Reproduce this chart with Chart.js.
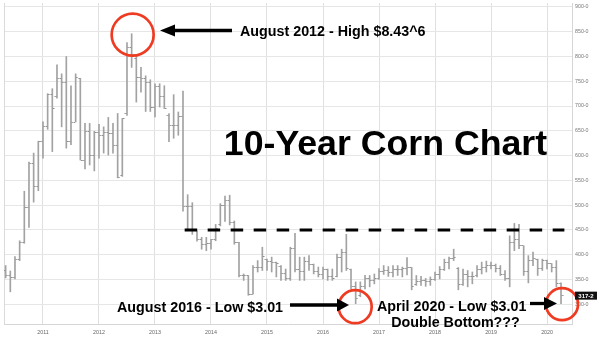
<!DOCTYPE html>
<html><head><meta charset="utf-8">
<script src="https://cdn.jsdelivr.net/npm/chart.js@4.4.1/dist/chart.umd.min.js"></script>
<style>html,body{margin:0;padding:0;background:#fff}#wrap{width:600px;height:339px;position:relative}</style>
</head><body><div id="wrap"><canvas id="c" width="600" height="339"></canvas></div>
<script>
const months = [
 '2010-05','2010-06','2010-07','2010-08','2010-09','2010-10','2010-11','2010-12',
 '2011-01','2011-02','2011-03','2011-04','2011-05','2011-06','2011-07','2011-08','2011-09','2011-10','2011-11','2011-12',
 '2012-01','2012-02','2012-03','2012-04','2012-05','2012-06','2012-07','2012-08','2012-09','2012-10','2012-11','2012-12',
 '2013-01','2013-02','2013-03','2013-04','2013-05','2013-06','2013-07','2013-08','2013-09','2013-10','2013-11','2013-12',
 '2014-01','2014-02','2014-03','2014-04','2014-05','2014-06','2014-07','2014-08','2014-09','2014-10','2014-11','2014-12',
 '2015-01','2015-02','2015-03','2015-04','2015-05','2015-06','2015-07','2015-08','2015-09','2015-10','2015-11','2015-12',
 '2016-01','2016-02','2016-03','2016-04','2016-05','2016-06','2016-07','2016-08','2016-09','2016-10','2016-11','2016-12',
 '2017-01','2017-02','2017-03','2017-04','2017-05','2017-06','2017-07','2017-08','2017-09','2017-10','2017-11','2017-12',
 '2018-01','2018-02','2018-03','2018-04','2018-05','2018-06','2018-07','2018-08','2018-09','2018-10','2018-11','2018-12',
 '2019-01','2019-02','2019-03','2019-04','2019-05','2019-06','2019-07','2019-08','2019-09','2019-10','2019-11','2019-12',
 '2020-01','2020-02','2020-03','2020-04'
];
const opens = [
 367,358,353,391,425,496,583,538,
 628,658,723,720,755,748,629,667,755,591,648,601,
 646,641,646,644,620,560,685,818,795,758,756,748,
 698,740,720,680,660,661,678,498,498,448,430,420,
 422,430,460,500,510,465,425,357,358,320,375,375,
 390,386,385,376,362,352,413,370,365,387,380,365,
 360,370,355,356,395,405,370,335,318,335,352,348,
 352,365,368,364,370,370,372,374,340,345,348,345,
 350,360,370,385,392,372,340,360,355,357,370,375,
 378,378,372,360,352,425,430,418,366,388,391,372,
 388,382,375,341
];
const highs = [
 378,367,396,428,528,587,605,629,
 668,725,735,783,765,800,741,765,756,665,665,649,
 663,658,677,665,685,675,828,846,800,778,761,753,
 745,745,741,685,723,688,730,521,505,448,435,435,
 431,461,503,518,520,468,425,361,358,378,388,415,
 391,395,385,378,371,415,443,395,395,398,381,375,
 375,371,371,401,411,441,371,345,345,358,358,361,
 372,378,376,378,378,375,394,374,358,356,352,355,
 365,376,391,395,411,374,371,368,365,378,385,387,
 385,381,378,368,438,463,461,418,398,405,391,391,
 389,382,388,343
];
const lows = [
 353,325,351,388,423,455,506,529,
 595,653,608,716,658,615,622,668,591,573,581,569,
 595,605,601,605,555,558,681,778,708,728,689,689,
 678,698,695,628,635,641,488,449,441,427,411,408,
 411,428,458,467,460,421,355,348,318,320,365,368,
 368,365,355,348,348,348,365,348,348,368,361,355,
 351,348,348,355,365,368,331,301,315,331,335,341,
 350,360,356,355,358,355,359,329,338,338,336,338,
 348,351,368,371,388,329,338,335,341,355,361,365,
 371,365,358,348,335,408,412,358,343,378,358,368,
 371,365,335,301
];
const closes = [
 358,353,391,425,496,583,538,628,
 658,723,695,755,748,629,667,758,591,648,601,646,
 641,646,644,620,556,675,818,805,758,756,748,698,
 740,720,695,660,661,678,498,498,448,430,420,422,
 430,453,500,510,465,425,357,358,320,375,375,397,
 386,385,382,362,352,413,370,365,387,380,365,360,
 370,355,352,395,405,372,335,312,335,352,348,352,
 365,368,364,370,370,372,375,335,345,348,345,350,
 360,370,385,392,395,340,360,355,355,370,375,378,
 378,372,360,352,425,430,418,366,388,392,372,388,
 383,375,341,317.25
];
const xTicks = [2011,2012,2013,2014,2015,2016,2017,2018,2019,2020];
const yTicks = [300,350,400,450,500,550,600,650,700,750,800,850,900];
const lastPriceText = '317-2';
const resistanceLevel = 450;

const tOf = m => { const [y, mo] = m.split('-').map(Number); return y + (mo - 1) / 12; };
const BAR = '#a2a2a2';
const TICK = '#8a8a8a';
function tickImg(left){
  const c = document.createElement('canvas'); c.width = 5; c.height = 1;
  const g = c.getContext('2d'); g.fillStyle = TICK; g.fillRect(left ? 0.5 : 3, 0, 1.5, 1); return c;
}
const FONT = '"Liberation Sans", Arial, Helvetica, sans-serif';

function arrow(ctx, x0, x1, y, headLen, headHalf, lw){
  const d = Math.sign(x1 - x0);
  ctx.lineWidth = lw; ctx.strokeStyle = '#000'; ctx.fillStyle = '#000';
  ctx.beginPath(); ctx.moveTo(x0, y); ctx.lineTo(x1 - d*headLen + d*1, y); ctx.stroke();
  ctx.beginPath(); ctx.moveTo(x1, y); ctx.lineTo(x1 - d*headLen, y - headHalf); ctx.lineTo(x1 - d*headLen, y + headHalf); ctx.closePath(); ctx.fill();
}
function circle(ctx, x, y, r){
  ctx.lineWidth = 2.7; ctx.strokeStyle = '#ee3b22';
  ctx.beginPath(); ctx.arc(x, y, r, 0, Math.PI*2); ctx.stroke();
}

const annot = {
  id: 'annot',
  beforeDatasetsDraw(chart){
    const {ctx, chartArea: a} = chart;
    ctx.save(); ctx.strokeStyle = '#dadada'; ctx.lineWidth = 1;
    ctx.beginPath(); ctx.moveTo(a.left + 0.5, a.top); ctx.lineTo(a.left + 0.5, a.bottom); ctx.stroke();
    ctx.restore();
  },
  afterDraw(chart){
    const {ctx} = chart; const xs = chart.scales.x, ys = chart.scales.y;
    ctx.save();
    const yr = ys.getPixelForValue(resistanceLevel);
    ctx.setLineDash([12.5, 10.5]); ctx.lineWidth = 3; ctx.strokeStyle = '#000';
    ctx.beginPath(); ctx.moveTo(xs.getPixelForValue(2013.53), yr); ctx.lineTo(xs.getPixelForValue(2020.31), yr); ctx.stroke();
    ctx.setLineDash([]);
    const iHigh = months.indexOf('2012-08'), iLow1 = months.indexOf('2016-08'), iLow2 = months.indexOf('2020-04');
    circle(ctx, xs.getPixelForValue(tOf(months[iHigh])) + 1, ys.getPixelForValue(highs[iHigh]) + 1, 21);
    circle(ctx, xs.getPixelForValue(tOf(months[iLow1])) - 0.5, ys.getPixelForValue(lows[iLow1]) + 3, 16.5);
    circle(ctx, xs.getPixelForValue(tOf(months[iLow2])) + 1, ys.getPixelForValue(lows[iLow2]) + 0.5, 16);
    arrow(ctx, 232, 160, 30.5, 15, 6, 3.3);
    arrow(ctx, 290, 349, 305, 12, 6.5, 3.3);
    arrow(ctx, 530, 557, 303.5, 13, 6.5, 3.3);
    ctx.fillStyle = '#000'; ctx.textBaseline = 'alphabetic';
    ctx.font = 'bold 14.3px ' + FONT; ctx.textAlign = 'left';
    ctx.fillText('August 2012 - High $8.43^6', 240, 36);
    ctx.fillText('August 2016 - Low $3.01', 117, 311.5);
    ctx.fillText('April 2020 - Low $3.01', 377, 311.3);
    ctx.textAlign = 'center';
    ctx.fillText('Double Bottom???', 455.5, 327);
    ctx.font = 'bold 35.7px ' + FONT;
    ctx.fillText('10-Year Corn Chart', 385.5, 155);
    const yl = ys.getPixelForValue(closes[closes.length - 1]);
    ctx.fillStyle = '#111';
    ctx.fillRect(575, yl - 4, 22, 8);
    ctx.fillStyle = '#fff'; ctx.font = 'bold 6px ' + FONT; ctx.textBaseline = 'middle';
    ctx.fillText(lastPriceText, 586, yl + 0.3);
    ctx.restore();
  }
};

new Chart(document.getElementById('c'), {
  type: 'bar',
  data: {
    datasets: [
      { type: 'bar', data: months.map((m, i) => ({x: tOf(m), y: [lows[i], highs[i]]})),
        backgroundColor: BAR, borderWidth: 0, barThickness: 1, grouped: false, order: 2 },
      { type: 'line', showLine: false, data: months.map((m, i) => ({x: tOf(m), y: opens[i]})),
        pointStyle: tickImg(true), pointRadius: 2, pointHoverRadius: 2, order: 1 },
      { type: 'line', showLine: false, data: months.map((m, i) => ({x: tOf(m), y: closes[i]})),
        pointStyle: tickImg(false), pointRadius: 2, pointHoverRadius: 2, order: 1 }
    ]
  },
  options: {
    responsive: false, animation: false,
    layout: { padding: { left: 4, top: 0, right: 0, bottom: 0 } },
    plugins: { legend: { display: false }, tooltip: { enabled: false } },
    scales: {
      x: {
        type: 'linear', min: 2010.304, max: 2020.446, offset: false,
        afterBuildTicks: s => { s.ticks = xTicks.map(v => ({value: v})); },
        afterFit: s => { s.height = 15; s.paddingLeft = 0; s.paddingRight = 0; },
        grid: { color: '#e0e0e0', drawTicks: false, offset: false },
        border: { display: true, color: '#d6d6d6' },
        ticks: { callback: v => String(v), font: { family: FONT, size: 5.3 }, color: '#666', padding: 5, maxRotation: 0, autoSkip: false }
      },
      y: {
        position: 'right', min: 260, max: 908,
        afterBuildTicks: s => { s.ticks = yTicks.map(v => ({value: v})); },
        afterFit: s => { s.width = 28; s.paddingTop = 0; s.paddingBottom = 0; },
        grid: { color: '#e6e6e6', drawTicks: false },
        border: { display: true, color: '#d6d6d6' },
        ticks: { callback: v => v + '-0', font: { family: FONT, size: 5.3 }, color: '#777', padding: 3 }
      }
    }
  },
  plugins: [annot]
});
</script></body></html>
